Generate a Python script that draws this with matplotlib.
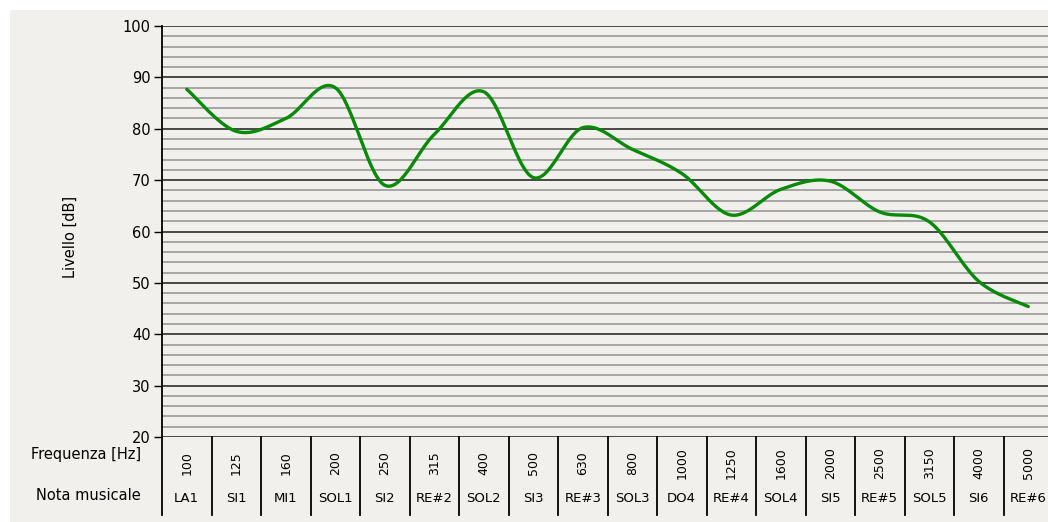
import numpy as np
import matplotlib
matplotlib.use("Agg")
import matplotlib.pyplot as plt
from matplotlib.patches import Rectangle
from matplotlib.transforms import blended_transform_factory

# ---- data ----
frequencies = ["100", "125", "160", "200", "250", "315", "400", "500", "630",
               "800", "1000", "1250", "1600", "2000", "2500", "3150", "4000", "5000"]
notes = ["LA1", "SI1", "MI1", "SOL1", "SI2", "RE#2", "SOL2", "SI3", "RE#3",
         "SOL3", "DO4", "RE#4", "SOL4", "SI5", "RE#5", "SOL5", "SI6", "RE#6"]
levels = [87.7, 79.5, 82.0, 88.0, 69.0, 78.9, 87.2, 70.5, 80.2,
          76.0, 71.3, 63.2, 68.2, 69.8, 63.8, 61.9, 50.3, 45.4]
y_major = [20, 30, 40, 50, 60, 70, 80, 90, 100]

BG = "#f1f0ec"
W, H = 1048, 522

def catmull_rom(x, y, n=30):
    x = np.asarray(x, float); y = np.asarray(y, float)
    px = np.concatenate([[x[0]], x, [x[-1]]])
    py = np.concatenate([[y[0]], y, [y[-1]]])
    ox, oy = [], []
    t = np.linspace(0, 1, n, endpoint=False)
    for i in range(1, len(px) - 2):
        p0, p1, p2, p3 = px[i-1], px[i], px[i+1], px[i+2]
        q0, q1, q2, q3 = py[i-1], py[i], py[i+1], py[i+2]
        c1x, c1y = p1 + (p2 - p0) / 6, q1 + (q2 - q0) / 6
        c2x, c2y = p2 - (p3 - p1) / 6, q2 - (q3 - q1) / 6
        b0 = (1-t)**3; b1 = 3*(1-t)**2*t; b2 = 3*(1-t)*t**2; b3 = t**3
        ox.append(b0*p1 + b1*c1x + b2*c2x + b3*p2)
        oy.append(b0*q1 + b1*c1y + b2*c2y + b3*q2)
    ox.append([x[-1]]); oy.append([y[-1]])
    return np.concatenate(ox), np.concatenate(oy)

fig = plt.figure(figsize=(W/100, H/100), dpi=100)
fig.patch.set_facecolor("white")
fig.add_artist(Rectangle((10/W, 0), 1, 1 - 10/H, transform=fig.transFigure,
                         facecolor=BG, edgecolor="none", zorder=0))

ax = fig.add_axes([162/W, 1 - 437/H, (1053 - 162)/W, (437 - 26)/H])
ax.set_facecolor(BG)
ax.set_xlim(-0.5, len(frequencies) - 0.5)
ax.set_ylim(20, 100)
ax.set_yticks(y_major)
ax.set_yticks(np.arange(20, 101, 2), minor=True)
ax.tick_params(axis="y", which="major", length=6, width=1, color="black",
               labelsize=10.5, pad=2)
ax.tick_params(axis="y", which="minor", length=0)
ax.set_xticks([])
ax.grid(axis="y", which="minor", color="#a0a0a0", linewidth=1.3, zorder=1)
ax.grid(axis="y", which="major", color="#1a1a1a", linewidth=1.1, zorder=1)
ax.set_axisbelow(True)
for s in ["top", "right", "bottom"]:
    ax.spines[s].set_visible(False)
ax.spines["left"].set_linewidth(1.3)

xs = np.arange(len(levels))
sx, sy = catmull_rom(xs, levels)
ax.plot(sx, sy, color="#078a07", linewidth=2.4, solid_capstyle="round", zorder=3)

ax.set_ylabel("Livello [dB]", fontsize=10.5, labelpad=0)
ax.yaxis.set_label_coords((78 - 162) / (1053 - 162), (437 - 237) / (437 - 26))

# ---- table below the plot ----
tr = blended_transform_factory(ax.transData, fig.transFigure)
y_top = 1 - 437/H
y_bot = 1 - 515/H
for i in range(len(frequencies) + 1):
    ax.plot([i - 0.5, i - 0.5], [y_top, y_bot], transform=tr, color="black",
            linewidth=1.3, clip_on=False, zorder=4)
for i, (f, n) in enumerate(zip(frequencies, notes)):
    ax.text(i, 1 - 463/H, f, transform=tr, rotation=90, ha="center", va="center",
            fontsize=9)
    ax.text(i, 1 - 498/H, n, transform=tr, ha="center", va="center", fontsize=9.5)

fig.text(141/W, 1 - 455/H, "Frequenza [Hz]", ha="right", va="center", fontsize=10.5)
fig.text(141/W, 1 - 496/H, "Nota musicale", ha="right", va="center", fontsize=10.5)

fig.savefig("out.png", dpi=100, facecolor=fig.get_facecolor())
